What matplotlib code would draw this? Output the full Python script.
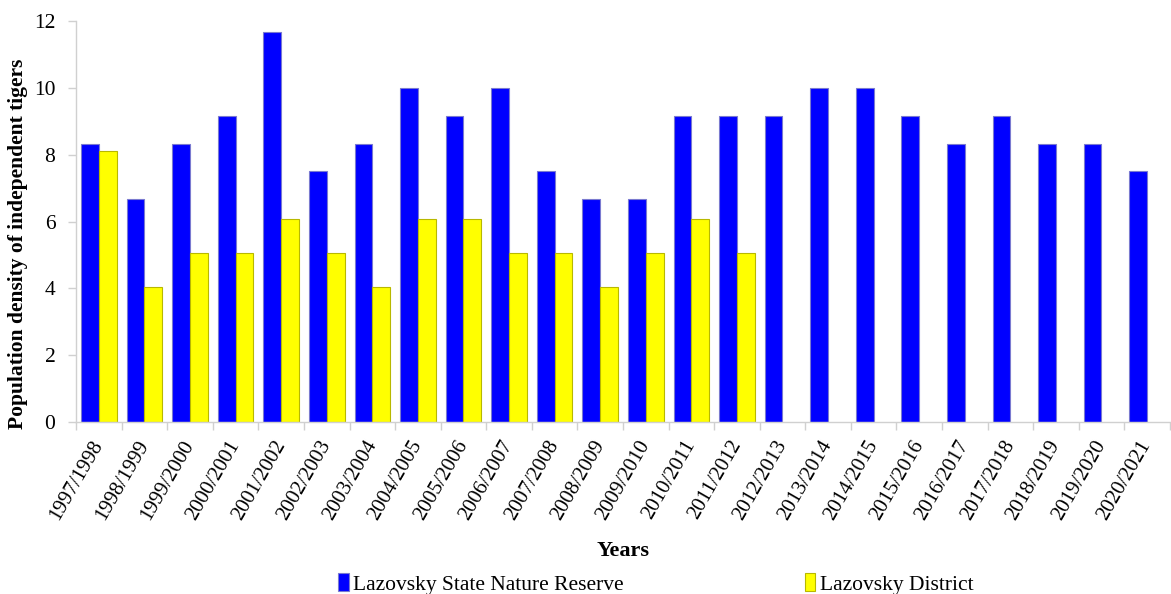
import numpy as np
import matplotlib.pyplot as plt
from matplotlib.transforms import ScaledTranslation

plt.rcParams['font.family'] = ['Liberation Serif', 'DejaVu Serif']

years = ['1997/1998', '1998/1999', '1999/2000', '2000/2001', '2001/2002',
         '2002/2003', '2003/2004', '2004/2005', '2005/2006', '2006/2007',
         '2007/2008', '2008/2009', '2009/2010', '2010/2011', '2011/2012',
         '2012/2013', '2013/2014', '2014/2015', '2015/2016', '2016/2017',
         '2017/2018', '2018/2019', '2019/2020', '2020/2021']

# density in the reserve (all seasons)
reserve = [8.33, 6.67, 8.33, 9.17, 11.67, 7.5, 8.33, 10.0, 9.17, 10.0,
           7.5, 6.67, 6.67, 9.17, 9.17, 9.17, 10.0, 10.0, 9.17, 8.33,
           9.17, 8.33, 8.33, 7.5]

# density in the district (surveyed up to 2011/2012 only)
district = [8.1, 4.05, 5.06, 5.06, 6.08, 5.06, 4.05, 6.08, 6.08, 5.06,
            5.06, 4.05, 5.06, 6.08, 5.06]

fig = plt.figure(figsize=(11.71, 5.94), dpi=100)
ax = fig.add_axes([0.065, 0.2896, 0.934, 0.675])

x = np.arange(len(years))
w = 0.39
ax.bar(x - w/2, reserve, w, color='#0000ff', edgecolor='#7a7ad0', linewidth=0.8,
       label='Lazovsky State Nature Reserve')
ax.bar(x[:len(district)] + w/2, district, w, color='#ffff00', edgecolor='#b8b800',
       linewidth=0.8, label='Lazovsky District')

ax.set_xlim(-0.5, len(years) - 0.5)
ax.set_ylim(0, 12)
ax.set_yticks(range(0, 13, 2))

ax.set_xticks(x)
ax.set_xticklabels(years, rotation=60, ha='right', va='center',
                   rotation_mode='anchor', fontsize=15)
# nudge the slanted labels a little to the right of their ticks
shift = ScaledTranslation(6/100, 0, fig.dpi_scale_trans)
for lab in ax.get_xticklabels():
    lab.set_transform(lab.get_transform() + shift)
ax.set_xticks(np.arange(-0.5, len(years)), minor=True)
ax.tick_params(axis='x', which='major', length=0, pad=14)
ax.tick_params(axis='x', which='minor', length=6, color='#d0d0d0', width=1)
ax.tick_params(axis='y', length=6, color='#d0d0d0', width=1, labelsize=15.5, pad=9)

for s in ['top', 'right']:
    ax.spines[s].set_visible(False)
for s in ['left', 'bottom']:
    ax.spines[s].set_color('#d0d0d0')
    ax.spines[s].set_linewidth(1)

ax.set_ylabel('Population density of independent tigers', fontsize=15.5,
              fontweight='bold')
ax.yaxis.set_label_coords(-0.044, 0.444)
ax.set_xlabel('Years', fontsize=16, fontweight='bold', labelpad=13)

fig.legend(loc='center', bbox_to_anchor=(0.56, 0.017), ncol=2, frameon=False,
           fontsize=15.5, handlelength=0.5, handleheight=0.9, handletextpad=0.2,
           columnspacing=8.4)

plt.savefig('out.png', dpi=100)
